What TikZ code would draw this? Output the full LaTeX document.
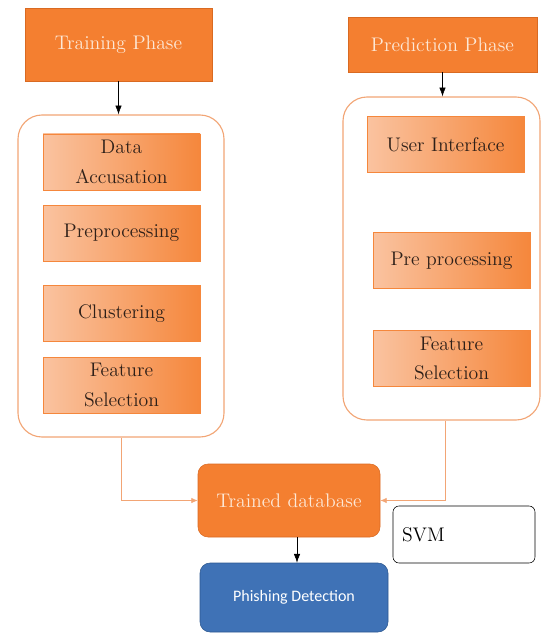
\documentclass[tikz,border=0pt]{standalone}
\usepackage{fontspec}
\newfontfamily\calibri{Carlito}
\usepackage{tikz}
\usetikzlibrary{arrows.meta, positioning, calc}

\definecolor{phasefill}{HTML}{F47F30}
\definecolor{phaseedge}{HTML}{D96A22}
\definecolor{paletext}{HTML}{FDE8D6}
\definecolor{steplight}{HTML}{FAC3A0}
\definecolor{stepdark}{HTML}{F5873C}
\definecolor{steptext}{HTML}{2E2019}
\definecolor{groupedge}{HTML}{F2A575}
\definecolor{detectfill}{HTML}{3F72B6}
\definecolor{detectedge}{HTML}{2D5890}

\begin{document}
\begin{tikzpicture}[
  font=\fontsize{14}{21}\selectfont,
  phase/.style={rectangle, draw=phaseedge, fill=phasefill, text=paletext, inner sep=2pt},
  group/.style={rectangle, rounded corners=0.6cm, draw=groupedge, line width=0.8pt, fill=white},
  stepbox/.style={rectangle, draw=stepdark, left color=steplight, right color=stepdark,
    text=steptext, minimum width=3.925cm, minimum height=1.4cm, align=center, inner sep=1pt},
  arrow/.style={-{Latex[length=2.2mm, width=1.6mm]}, thin, black},
  link/.style={-{Latex[length=1.6mm, width=1.4mm]}, groupedge, line width=0.6pt}
]

\useasboundingbox (0,0) rectangle (13.55,-15.825);

% Phases
\node[phase, minimum width=4.675cm, minimum height=1.825cm] (train) at (2.9625,-1.1125) {Training Phase};
\node[phase, minimum width=4.725cm, minimum height=1.375cm] (pred) at (11.0625,-1.1125) {Prediction Phase};

% Groups
\node[group, minimum width=5.15cm, minimum height=8.05cm] (traingroup) at (3.025,-6.9) {};
\node[group, minimum width=4.925cm, minimum height=8.075cm] (predgroup) at (11.0375,-6.4625) {};

% Training steps
\node[stepbox] (data) at (3.0375,-4.05) {Data\\Accusation};
\node[stepbox] (prep) at (3.0375,-5.825) {Preprocessing};
\node[stepbox] (clus) at (3.0375,-7.8375) {Clustering};
\node[stepbox] (feat) at (3.0375,-9.625) {Feature\\Selection};

% Prediction steps
\node[stepbox] (ui) at (11.1375,-3.6125) {User Interface};
\node[stepbox] (preproc) at (11.2875,-6.5125) {Pre processing};
\node[stepbox] (featsel) at (11.2875,-8.9625) {Feature\\Selection};

% Database, classifier, output
\node[rectangle, rounded corners=0.25cm, draw=phaseedge, fill=phasefill, text=paletext,
  minimum width=4.55cm, minimum height=1.825cm] (db) at (7.225,-12.5125) {Trained database};
\node[rectangle, rounded corners=0.15cm, draw=black, fill=white, text width=3.1cm,
  minimum width=3.55cm, minimum height=1.425cm, align=left] (svm) at (11.6,-13.3625) {SVM};
\node[rectangle, rounded corners=0.25cm, draw=detectedge, fill=detectfill, text=white,
  minimum width=4.7cm, minimum height=1.725cm, font=\calibri\fontsize{11.4}{14}\selectfont] (phish) at (7.35,-14.9375) {Phishing Detection};

% Arrows
\coordinate (dbout) at ($(db.south)+(0.2,0)$);
\draw[arrow] (train.south) -- (train.south |- traingroup.north);
\draw[arrow] (pred.south) -- (pred.south |- predgroup.north);
\draw[arrow] (dbout) -- (dbout |- phish.north);

% Links into the database
\draw[link] (traingroup.south) |- (db.west);
\draw[link] (predgroup.south) ++(0.1,0) |- (db.east);

\end{tikzpicture}
\end{document}
